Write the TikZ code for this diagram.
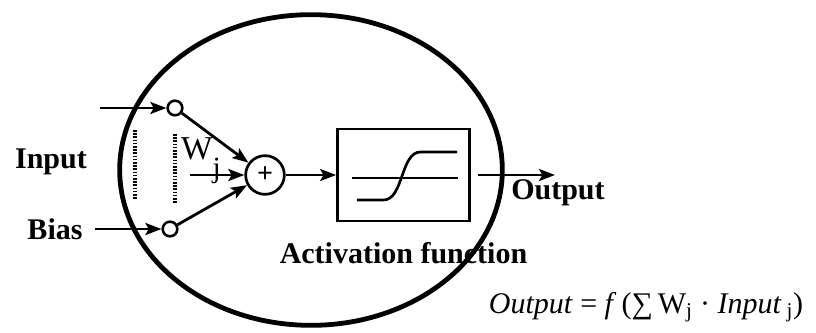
\documentclass[tikz,border=0pt]{standalone}
\usepackage{fontspec}
\setmainfont{Liberation Serif}
\usetikzlibrary{positioning,arrows.meta,shapes.geometric}

\begin{document}
\begin{tikzpicture}[x=0.75pt, y=-0.75pt,
  wire/.style={-{Stealth[length=12pt,width=9pt,inset=2.5pt]}, line width=2.1pt},
  tap/.style={circle, draw, line width=1.9pt, minimum size=11pt, inner sep=0pt},
  lbl/.style={font=\fontsize{22.5}{26}\selectfont\bfseries, inner sep=0pt},
  dots/.style={line width=2.6pt, dash pattern=on 1.2pt off 1.2pt},
]
\useasboundingbox (0,0) rectangle (816,332);

% ---- cell outline ----
\node[ellipse, draw, line width=3.6pt, minimum width=287pt, minimum height=233pt]
  (neuron) at (311,170) {};

% ---- input taps and summing junction ----
\node[tap] (tapin)   at (175,108) {};
\node[tap] (tapbias) at (170,229) {};
\node[circle, draw, line width=2pt, minimum size=29pt, inner sep=0pt,
      font=\fontsize{21}{22}\selectfont\bfseries] (sum) at (265,175) {+};

\coordinate (src)  at (100,108);
\coordinate (bsrc) at (95,229);
\coordinate (wsrc) at (190,175);
\node[lbl] (input) at (51,162) {Input};
\node[lbl] (bias)  at (55,229) {Bias};

\draw[wire] (src) -- (tapin);
\draw[wire] (bsrc) -- (tapbias);
\draw[wire] (tapin) -- (sum);
\draw[wire] (tapbias) -- (sum);
\draw[wire] (wsrc) -- (sum);

\draw[dots] (135,130) -- (135,200);
\draw[dots] (175,134) -- (175,203);
\node[inner sep=0pt, font=\fontsize{25}{28}\selectfont] (wj) at (201,161)
  {W\raisebox{-1.15ex}{\fontsize{22}{24}\selectfont j}};

% ---- activation block ----
\node[draw, line width=2pt, minimum width=99pt, minimum height=69pt]
  (act) at (403.5,175) {};
\begin{scope}[shift={(act.center)}, line width=2pt]
  \draw (-51.5,3) -- (54.5,3);
  \draw (-46.5,25) -- (-20,25) .. controls (0,25) and (-3,-23) .. (17,-23) -- (53.5,-23);
\end{scope}
\node[lbl, below=15pt of act] (actlbl) {Activation function};

\draw[wire] (sum) -- (act);
\coordinate (osrc)   at (478,175);
\coordinate (outend) at (555,175);
\draw[wire] (osrc) -- (outend);
\node[lbl, anchor=west] (outlbl) at (511,193) {Output};

% ---- formula ----
\node[inner sep=0pt, font=\fontsize{22.5}{26}\selectfont] (formula) at (646,307)
  {\textit{Output} = \textit{f}\,(∑\,W\textsubscript{j} · \textit{Input}\,\textsubscript{j})};

\end{tikzpicture}
\end{document}
